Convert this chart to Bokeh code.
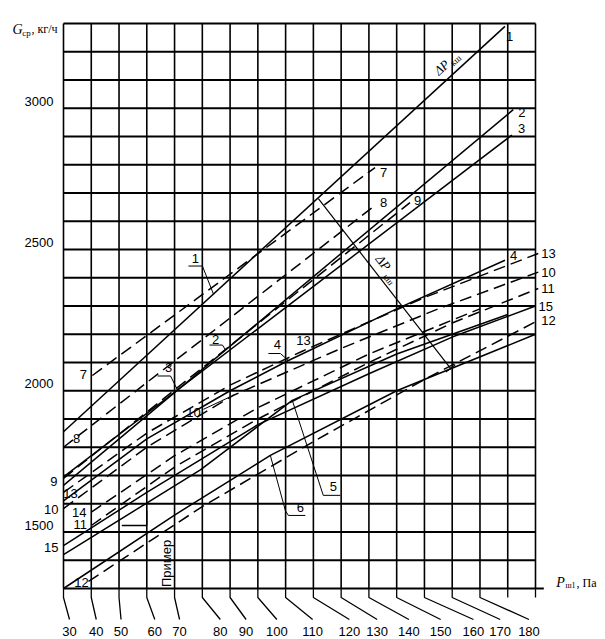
import numpy as np
from bokeh.plotting import figure
from bokeh.core.properties import value
from bokeh.embed import file_html
from bokeh.resources import INLINE

# ---------------- data ----------------
p_ticks = [30, 40, 50, 60, 70, 80, 90, 100, 110, 120, 130, 140, 150, 160, 170, 180]
p_tick_labels = [str(v) for v in p_ticks]
p_grid = [30, 40, 50, 60, 70, 80, 90, 100, 110, 120, 130, 140, 150, 160, 170, 180, 190, 200]
g_grid = [1300, 1400, 1500, 1600, 1700, 1800, 1900, 2000, 2100, 2200, 2300,
          2400, 2500, 2600, 2700, 2800, 2900, 3000, 3100, 3200, 3300]
g_ticks = [1500, 2000, 2500, 3000]

# curves (P_ш1 in Pa, G_ср in kg/h)
c1_p = [30, 189];   c1_g = [1855, 3290]
c2_p = [30, 192];   c2_g = [1665, 2995]
c3_p = [30, 191.5]; c3_g = [1695, 2905]
c7_p = [40.4, 142.2]; c7_g = [2054, 2790]
c8_p = [30, 142.2];   c8_g = [1800, 2656]
c9_p = [30, 154.8];   c9_g = [1690, 2666]
c4_p = [30, 60, 90, 111, 150, 189];  c4_g = [1610, 1830, 2000, 2107, 2290, 2462]
c13_p = [30, 60, 90, 116, 160, 201]; c13_g = [1640, 1850, 2020, 2140, 2330, 2486]
c10_p = [30, 60, 91, 130, 165, 201]; c10_g = [1583, 1800, 1983, 2150, 2290, 2420]
c14_p = [40, 70, 100, 140, 180];     c14_g = [1570, 1770, 1940, 2130, 2290]
c11_p = [40, 70, 100, 140, 170, 201]; c11_g = [1523, 1730, 1900, 2100, 2240, 2362]
c15_p = [30, 60, 100, 140, 170, 200]; c15_g = [1452, 1640, 1880, 2060, 2190, 2300]
c5_p = [30, 79.3, 112.4, 150, 190];  c5_g = [1420, 1720, 1966, 2130, 2270]
c12_p = [39, 80, 120, 160, 201];     c12_g = [1325, 1590, 1820, 2040, 2249]
c6_p = [30, 70, 104.5, 150, 200];    c6_g = [1300, 1560, 1771, 2000, 2200]
dp_p = [121.8, 169.4]; dp_g = [2680, 2079]
ex_p = [51, 60, 60];   ex_g = [1523, 1523, 1576]

curves = [
    ("1", c1_p, c1_g, False), ("2", c2_p, c2_g, False), ("3", c3_p, c3_g, False),
    ("7", c7_p, c7_g, True), ("8", c8_p, c8_g, True), ("9", c9_p, c9_g, True),
    ("4", c4_p, c4_g, False), ("13", c13_p, c13_g, True), ("10", c10_p, c10_g, True),
    ("14", c14_p, c14_g, True), ("11", c11_p, c11_g, True), ("15", c15_p, c15_g, False),
    ("5", c5_p, c5_g, False), ("12", c12_p, c12_g, True), ("6", c6_p, c6_g, False),
]
cmap = {n: (p, g) for n, p, g, d in curves}

# ---------------- layout ----------------
W, H = 605, 639
XS = 472 / 170.0      # px per Pa
YS = 565 / 2000.0     # px per kg/h
x0 = 30 - 63 / XS
x1 = x0 + W / XS
y1 = 3300 + 23 / YS
y0 = y1 - H / YS

def off(P, G, dx, dy):
    return P + dx / XS, G - dy / YS

SANS = value("Liberation Sans")
SERIF = value("Liberation Serif")

p = figure(width=W, height=H, x_range=(x0, x1), y_range=(y0, y1),
           output_backend="svg", toolbar_location=None, tools="")
p.axis.visible = False
p.grid.visible = False
p.outline_line_color = None
p.min_border = 0
p.min_border_left = p.min_border_right = p.min_border_top = p.min_border_bottom = 0
p.background_fill_color = "white"
p.border_fill_color = "white"

# grid
hx = [[p_grid[0], p_grid[-1] + (3 if g == g_grid[0] else 0)] for g in g_grid]
hy = [[g, g] for g in g_grid]
p.multi_line(hx, hy, line_color="black", line_width=2.0)
vx = [[v, v] for v in p_grid]
vy = [[g_grid[0], g_grid[-1]] for v in p_grid]
p.multi_line(vx, vy, line_color="black", line_width=1.6)

# fan lines to the x tick labels
shift_px = [6, 5, 2, 8, 5, 18, 16, 19, 27, 36, 36, 40, 44, 49, 48, 49]
g_bend = off(0, g_grid[0], 0, 9)[1]
g_end = off(0, g_grid[0], 0, 31)[1]
g_lab = off(0, g_grid[0], 0, 43)[1]
fx, fy, lx = [], [], []
for v, s in zip(p_ticks, shift_px):
    xe = off(v, 0, s, 0)[0]
    fx.append([v, v, xe]); fy.append([g_grid[0], g_bend, g_end]); lx.append(xe)
for v in p_grid[len(p_ticks):]:
    fx.append([v, v]); fy.append([g_grid[0], g_bend])
p.multi_line(fx, fy, line_color="black", line_width=1.3)
p.text(lx, [g_lab] * len(lx), text=p_tick_labels, text_font=SANS,
       text_font_size="13px", text_align="center", text_baseline="middle", text_color="black")

# y tick labels
ylx = off(p_grid[0], 0, -10, 0)[0]
p.text([ylx] * len(g_ticks), [off(0, g, 0, -7)[1] for g in g_ticks],
       text=[str(g) for g in g_ticks], text_font=SANS, text_font_size="13px",
       text_align="right", text_baseline="middle", text_color="black")

# curves
for n, cp, cg, dashed in curves:
    p.line(cp, cg, line_color="black", line_width=1.5,
           line_dash="12 6" if dashed else "solid")

# ΔP line with end tick
p.line(dp_p, dp_g, line_color="black", line_width=1.2)
ux, uy = 0.613, 0.790
ta = off(dp_p[1], dp_g[1], 6 * uy, -6 * ux)
tb = off(dp_p[1], dp_g[1], -6 * uy, 6 * ux)
p.line([ta[0], tb[0]], [ta[1], tb[1]], line_color="black", line_width=1.2)

# example path
p.line(ex_p, ex_g, line_color="black", line_width=1.3)

def lab(x, y, t, align="left", size="13px", font=SANS, style="normal", angle=0.0):
    p.text([x], [y], text=[t], text_font=font, text_font_size=size, text_align=align,
           text_baseline="middle", text_color="black", text_font_style=style, angle=angle)

# labels at curve ends
end_labels = {"1": (1, 10), "2": (5, 3), "3": (6, -7), "7": (5, 5), "8": (5, -3),
              "9": (4, -2), "4": (5, -5), "13": (3, 0), "10": (3, 0), "11": (3, 0),
              "15": (3, 0), "12": (3, 0)}
for n, (dx, dy) in end_labels.items():
    cp, cg = cmap[n]
    x, y = off(cp[-1], cg[-1], dx, dy)
    lab(x, y, n, "left")

start_labels = {"7": (-9, -1, "center"), "8": (13, -9, "center"), "9": (-6, 3, "right"),
                "13": (7, 1, "center"), "10": (-5, 1, "right"), "14": (-12, 0, "center"),
                "11": (-11, -1, "center"), "15": (-5, 2, "right"), "12": (-7, 1, "center")}
for n, (dx, dy, al) in start_labels.items():
    cp, cg = cmap[n]
    x, y = off(cp[0], cg[0], dx, dy)
    lab(x, y, n, al)

# leader labels
leaders = [
    ("1", 84.0, [(0, 0), (-11, -28), (-25, -28)], (-18, -36)),
    ("2", 88.35, [(0, 0), (-3, -5), (-16, -5)], (-10, -11)),
    ("3", 71.07, [(0, 0), (-7, -14), (-20, -14)], (-9, -22)),
    ("4", 111.0, [(0, 0), (-8, -7), (-20, -7)], (-11, -16)),
    ("10", 91.2, [(0, 0), (-30, 14)], (-40, 17)),
    ("5", 112.4, [(0, 0), (31, 95), (48, 95)], (41, 86)),
    ("6", 104.5, [(0, 0), (15, 55), (18, 60), (35, 60)], (30, 52)),
    ("13", 116.4, [], (0, -10)),
]
for n, P, poly, (ldx, ldy) in leaders:
    cp, cg = cmap[n]
    G = float(np.interp(P, cp, cg))
    if poly:
        pts = [off(P, G, dx, dy) for dx, dy in poly]
        p.line([q[0] for q in pts], [q[1] for q in pts], line_color="black", line_width=1.0)
    x, y = off(P, G, ldx, ldy)
    lab(x, y, n, "center")

# ΔP labels
P1 = 166.2
G1 = float(np.interp(P1, c1_p, c1_g))
x, y = off(P1, G1, 0, -17); lab(x, y, "ΔP", "center", "13px", SERIF, "italic", 0.735)
x, y = off(P1, G1, 14, -24); lab(x, y, "кш", "center", "9px", SERIF, "normal", 0.735)
x, y = off(dp_p[0], dp_g[0], 65, 64); lab(x, y, "ΔP", "center", "13px", SERIF, "italic", -0.91)
x, y = off(dp_p[0], dp_g[0], 70, 81); lab(x, y, "кш", "center", "9px", SERIF, "normal", -0.91)

# Пример
x, y = off(70, g_grid[0], -8, -25)
lab(x, y, "Пример", "center", "13px", SANS, "normal", np.pi / 2)

# axis titles
x, y = off(p_grid[0], g_grid[-1], -46, 6); lab(x, y, "G", "center", "14px", SERIF, "italic")
x, y = off(p_grid[0], g_grid[-1], -37, 9); lab(x, y, "ср", "center", "9px", SERIF)
x, y = off(p_grid[0], g_grid[-1], -32, 5); lab(x, y, ", кг/ч", "left", "12px", SERIF)
x, y = off(p_grid[-1], g_grid[0], 25, -6); lab(x, y, "P", "center", "14px", SERIF, "italic")
x, y = off(p_grid[-1], g_grid[0], 35, -3); lab(x, y, "ш1", "center", "8px", SERIF)
x, y = off(p_grid[-1], g_grid[0], 41, -6); lab(x, y, ", Па", "left", "12px", SERIF)

open("out.html", "w").write(file_html(p, INLINE))
